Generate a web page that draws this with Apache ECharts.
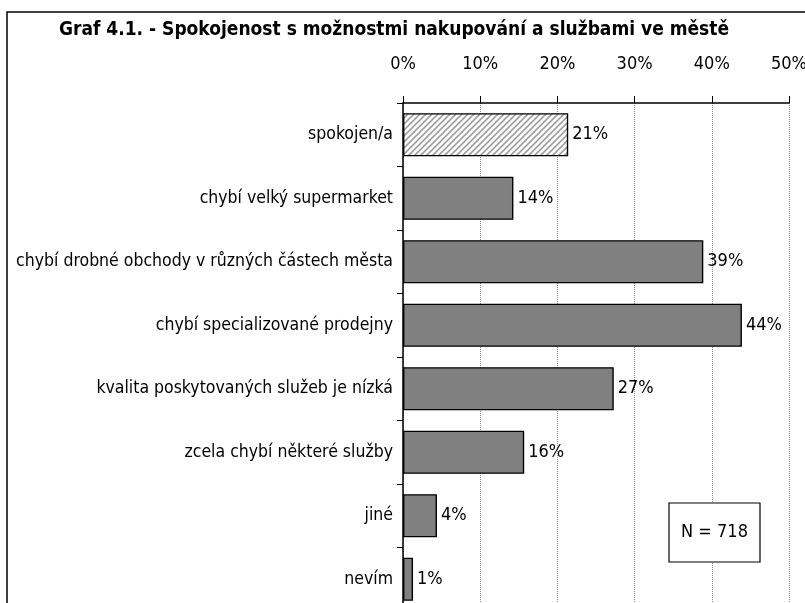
<!DOCTYPE html>
<html>
<head>
<meta charset="utf-8">
<script src="https://cdn.jsdelivr.net/npm/echarts@6/dist/echarts.min.js"></script>
<style>
  html, body { margin: 0; padding: 0; background: #fff; }
  #chart { width: 805px; height: 603px; }
</style>
</head>
<body>
<div id="chart"></div>
<script>
// data
var categories = [
  "spokojen/a",
  "chybí velký supermarket",
  "chybí drobné obchody v různých částech města",
  "chybí specializované prodejny",
  "kvalita poskytovaných služeb je nízká",
  "zcela chybí některé služby",
  "jiné",
  "nevím"
];
var values = [21.4, 14.3, 38.9, 43.9, 27.3, 15.7, 4.4, 1.3];
var xTicks = [0, 10, 20, 30, 40, 50];

var FONT = "DejaVu Sans Condensed";

// hatch pattern for the first bar
function makeHatch() {
  var c = document.createElement("canvas");
  c.width = 6; c.height = 6;
  var ctx = c.getContext("2d");
  ctx.fillStyle = "#ffffff";
  ctx.fillRect(0, 0, 6, 6);
  ctx.strokeStyle = "#a0a0a0";
  ctx.lineWidth = 1.6;
  ctx.beginPath();
  ctx.moveTo(-1, 7); ctx.lineTo(7, -1);
  ctx.moveTo(-1, 1); ctx.lineTo(1, -1);
  ctx.moveTo(5, 7); ctx.lineTo(7, 5);
  ctx.stroke();
  return c;
}
var hatch = makeHatch();

var myChart = echarts.init(document.getElementById("chart"));

var barData = values.map(function(v, i) {
  var item = { value: v };
  if (i === 0) {
    item.itemStyle = { color: { image: hatch, repeat: "repeat" } };
  }
  return item;
});

var option = {
  animation: false,
  textStyle: { fontFamily: FONT },
  title: {
    text: "Graf 4.1. - Spokojenost s možnostmi nakupování a službami ve městě",
    left: 389,
    top: 16,
    textAlign: "center",
    textStyle: { fontFamily: FONT, fontSize: 19, fontWeight: "bold", color: "#000" }
  },
  graphic: [
    {
      type: "rect",
      shape: { x: 7, y: 12, width: 820, height: 620 },
      style: { fill: null, stroke: "#000", lineWidth: 1.5 },
      z: 0
    },
    {
      type: "rect",
      shape: { x: 669, y: 503, width: 91, height: 59 },
      style: { fill: "#fff", stroke: "#000", lineWidth: 1.2 },
      z: 10
    },
    {
      type: "text",
      x: 714.5,
      y: 532.5,
      style: {
        text: "N = 718",
        fontFamily: FONT,
        fontSize: 18,
        fill: "#000",
        align: "center",
        verticalAlign: "middle"
      },
      z: 11
    }
  ],
  grid: {
    left: 403,
    top: 103,
    width: 386,
    height: 508,
    outerBoundsMode: "none"
  },
  xAxis: {
    type: "value",
    position: "top",
    min: 0,
    max: 50,
    interval: 10,
    axisLine: { show: true, lineStyle: { color: "#000", width: 1.5 } },
    axisTick: { show: true, length: 7, lineStyle: { color: "#000" } },
    axisLabel: {
      margin: 30,
      fontFamily: FONT,
      fontSize: 18,
      color: "#000",
      formatter: function(v) { return xTicks.indexOf(v) >= 0 ? v + "%" : ""; }
    },
    splitLine: { show: true, lineStyle: { color: "#8c8c8c", type: [1, 1], width: 1 } }
  },
  yAxis: {
    type: "category",
    inverse: true,
    data: categories,
    axisLine: { show: true, lineStyle: { color: "#000", width: 1.5 } },
    axisTick: { show: true, length: 6, lineStyle: { color: "#000" } },
    axisLabel: {
      margin: 10,
      fontFamily: FONT,
      fontSize: 17.5,
      color: "#000"
    }
  },
  series: [
    {
      type: "bar",
      data: barData,
      barWidth: "68%",
      itemStyle: { color: "#808080", borderColor: "#000", borderWidth: 1.4 },
      label: {
        show: true,
        position: "right",
        distance: 4,
        fontFamily: FONT,
        fontSize: 18,
        color: "#000",
        formatter: function(p) { return Math.round(p.value) + "%"; }
      }
    }
  ]
};

myChart.setOption(option);
</script>
</body>
</html>
